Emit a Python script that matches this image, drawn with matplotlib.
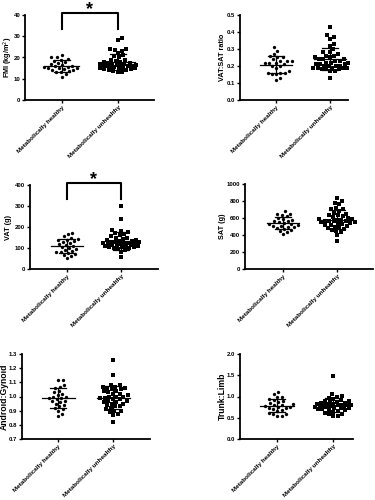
import numpy as np
import matplotlib
matplotlib.use("Agg")
import matplotlib.pyplot as plt

plt.rcParams['font.family'] = ['Liberation Sans', 'DejaVu Sans']

groups = ["Metabolically healthy", "Metabolically unhealthy"]

# values (healthy: circles, unhealthy: squares)
fmi_h = [11, 12, 13, 13, 13.5, 14, 14, 14.5, 15, 15, 15, 15.5, 15.5, 16, 16, 16.5, 17, 17.5,
         18, 18.5, 19, 19.5, 20, 20, 21]
fmi_u = [13, 13, 13.5, 14, 14, 14.5, 14.5, 15, 15, 15, 15, 15.5, 15.5, 16, 16, 16, 16, 16, 16.5,
         16.5, 17, 17, 17, 17.5, 17.5, 18, 18, 18.5, 19, 19, 20, 20.5, 21, 22, 23, 23.5, 24, 24, 28, 29]

ratio_h = [0.12, 0.13, 0.15, 0.15, 0.16, 0.16, 0.16, 0.17, 0.19, 0.2, 0.2, 0.21, 0.22, 0.22,
           0.22, 0.23, 0.23, 0.23, 0.24, 0.25, 0.25, 0.26, 0.27, 0.29, 0.31]
ratio_u = [0.13, 0.17, 0.17, 0.18, 0.18, 0.18, 0.19, 0.19, 0.19, 0.19, 0.19, 0.2, 0.2, 0.2, 0.2,
           0.21, 0.21, 0.21, 0.22, 0.22, 0.22, 0.23, 0.23, 0.24, 0.24, 0.24, 0.25, 0.25, 0.26, 0.26,
           0.27, 0.28, 0.28, 0.3, 0.32, 0.33, 0.36, 0.37, 0.38, 0.43]

vat_h = [52, 60, 65, 70, 75, 80, 80, 85, 90, 95, 100, 105, 110, 115, 120, 125, 130, 135, 140,
         140, 145, 150, 155, 165, 172]
vat_u = [55, 80, 90, 95, 100, 100, 105, 105, 105, 110, 110, 110, 115, 115, 115, 120, 120, 120,
         125, 125, 125, 130, 130, 130, 135, 135, 140, 140, 145, 150, 150, 155, 160, 165, 170, 175,
         180, 185, 240, 300]

sat_h = [410, 430, 450, 460, 470, 480, 490, 500, 505, 510, 520, 525, 530, 540, 550, 560, 570,
         580, 590, 600, 620, 640, 650, 650, 680]
sat_u = [330, 400, 430, 450, 460, 470, 480, 490, 500, 510, 520, 520, 530, 540, 545, 550, 555,
         560, 560, 570, 570, 575, 580, 585, 590, 600, 610, 620, 630, 640, 650, 660, 680, 700, 700,
         720, 760, 780, 800, 840]

ag_h = [0.86, 0.88, 0.9, 0.91, 0.92, 0.93, 0.94, 0.95, 0.96, 0.97, 0.97, 0.98, 0.99, 0.99, 1.0,
        1.0, 1.01, 1.02, 1.03, 1.04, 1.06, 1.07, 1.08, 1.12, 1.12]
ag_u = [0.82, 0.87, 0.88, 0.89, 0.9, 0.9, 0.91, 0.92, 0.93, 0.93, 0.94, 0.95, 0.95, 0.96, 0.96,
        0.97, 0.97, 0.98, 0.98, 0.99, 0.99, 1.0, 1.0, 1.0, 1.01, 1.02, 1.02, 1.03, 1.04, 1.04,
        1.05, 1.05, 1.06, 1.06, 1.07, 1.07, 1.08, 1.08, 1.15, 1.26]

tl_h = [0.53, 0.55, 0.58, 0.6, 0.62, 0.65, 0.68, 0.7, 0.72, 0.74, 0.75, 0.76, 0.78, 0.8, 0.8,
        0.82, 0.85, 0.87, 0.9, 0.92, 0.95, 0.98, 1.0, 1.05, 1.1]
tl_u = [0.53, 0.55, 0.58, 0.6, 0.62, 0.64, 0.66, 0.68, 0.69, 0.7, 0.7, 0.72, 0.73, 0.74, 0.75,
        0.76, 0.77, 0.78, 0.78, 0.79, 0.8, 0.8, 0.8, 0.81, 0.82, 0.82, 0.83, 0.84, 0.85, 0.86,
        0.88, 0.9, 0.9, 0.92, 0.95, 0.97, 1.0, 1.02, 1.05, 1.48]

# label, healthy, unhealthy, yticks, significant
panels = [
    ("FMI (kg/m$^2$)", fmi_h, fmi_u, [0, 10, 20, 30, 40], True),
    ("VAT:SAT ratio", ratio_h, ratio_u, [0.0, 0.1, 0.2, 0.3, 0.4, 0.5], False),
    ("VAT (g)", vat_h, vat_u, [0, 100, 200, 300, 400], True),
    ("SAT (g)", sat_h, sat_u, [0, 200, 400, 600, 800, 1000], False),
    ("Android:Gynoid", ag_h, ag_u, [0.7, 0.8, 0.9, 1.0, 1.1, 1.2, 1.3], False),
    ("Trunk:Limb", tl_h, tl_u, [0.0, 0.5, 1.0, 1.5, 2.0], False),
]
tick_fmt = ["{:.0f}", "{:.1f}", "{:.0f}", "{:.0f}", "{:.1f}", "{:.1f}"]

# pixel boxes: left, right, top, bottom, x of group 0, x of group 1, x of y-label
boxes = [
    (25, 154, 15, 100, 62, 118, 8),
    (240, 348, 15, 100, 276, 330, 222),
    (30, 158, 185, 269, 67, 121, 9),
    (245, 373, 184, 269, 283, 337, 223),
    (22, 150, 354, 439, 58, 113, 4.5),
    (240, 353, 354, 439, 277, 333, 222),
]

W, H = 375, 500
fig = plt.figure(figsize=(W / 100, H / 100), dpi=100)


def swarm(vals, px_per_y, px_per_x, d=4.3, maxpx=18):
    # simple beeswarm: place each point as close to centre as possible
    order = np.argsort(vals)
    placed = []
    offs = np.zeros(len(vals))
    cands = [0.0]
    for k in range(1, int(maxpx / 0.5) + 1):
        cands += [k * 0.5, -k * 0.5]
    for i in order:
        y = vals[i] * px_per_y
        best, best_gap = 0.0, -1
        for x in cands:
            gap = min([(x - px) ** 2 + (y - py) ** 2 for px, py in placed] or [1e9])
            if gap >= d * d:
                best = x
                break
            if gap > best_gap:
                best, best_gap = x, gap
        placed.append((best, y))
        offs[i] = best / px_per_x
    return offs


for idx, ((label, h, u, yt, sig), box, fmt) in enumerate(zip(panels, boxes, tick_fmt)):
    l, r, t, b, g0, g1, lx = box
    ax = fig.add_axes([l / W, 1 - b / H, (r - l) / W, (b - t) / H])
    pxu = g1 - g0
    ax.set_xlim((l - g0) / pxu, (r - g0) / pxu)
    ax.set_ylim(yt[0], yt[-1])
    px_per_y = (b - t) / (yt[-1] - yt[0])

    for gi, (vals, mk, ms) in enumerate([(h, "o", 2.4), (u, "s", 2.3)]):
        vals = np.array(vals, dtype=float)
        xo = swarm(vals, px_per_y, pxu)
        ax.plot(gi + xo, vals, mk, color="black", ms=ms, mew=0, clip_on=False, zorder=3)
        m, s = vals.mean(), vals.std(ddof=1)
        ax.plot([gi - 0.3, gi + 0.3], [m, m], color="black", lw=0.9, zorder=4)
        ax.plot([gi, gi], [m - s, m + s], color="black", lw=0.9, zorder=4)
        for e in (m - s, m + s):
            ax.plot([gi - 0.15, gi + 0.15], [e, e], color="black", lw=0.9, zorder=4)

    if sig:
        span = yt[-1] - yt[0]
        top = yt[-1] + 0.025 * span
        leg = yt[-1] - 0.17 * span
        ax.plot([0, 0, 1, 1], [leg, top, top, leg], color="black", lw=1.5, clip_on=False)
        ax.text(0.5, yt[-1] + 0.01 * span, "*", ha="center", va="baseline", fontsize=13,
                fontweight="bold", clip_on=False)

    ax.set_yticks(yt)
    ax.set_yticklabels([fmt.format(v) for v in yt], fontsize=4.3, fontweight="bold")
    ax.set_xticks([0, 1])
    ax.set_xticklabels(groups, rotation=45, ha="right", rotation_mode="anchor",
                       fontsize=4.6, fontweight="bold")
    big = idx >= 4
    ax.set_ylabel(label, fontsize=6.2 if big else 5.2, fontweight="bold", va="center")
    ax.yaxis.set_label_coords((lx - l) / (r - l), 0.5)
    for sp in ("top", "right"):
        ax.spines[sp].set_visible(False)
    for sp in ("left", "bottom"):
        ax.spines[sp].set_linewidth(1.3)
    ax.tick_params(axis="both", width=1.0, length=2.0, pad=1.5)

fig.savefig("out.png", dpi=100)
